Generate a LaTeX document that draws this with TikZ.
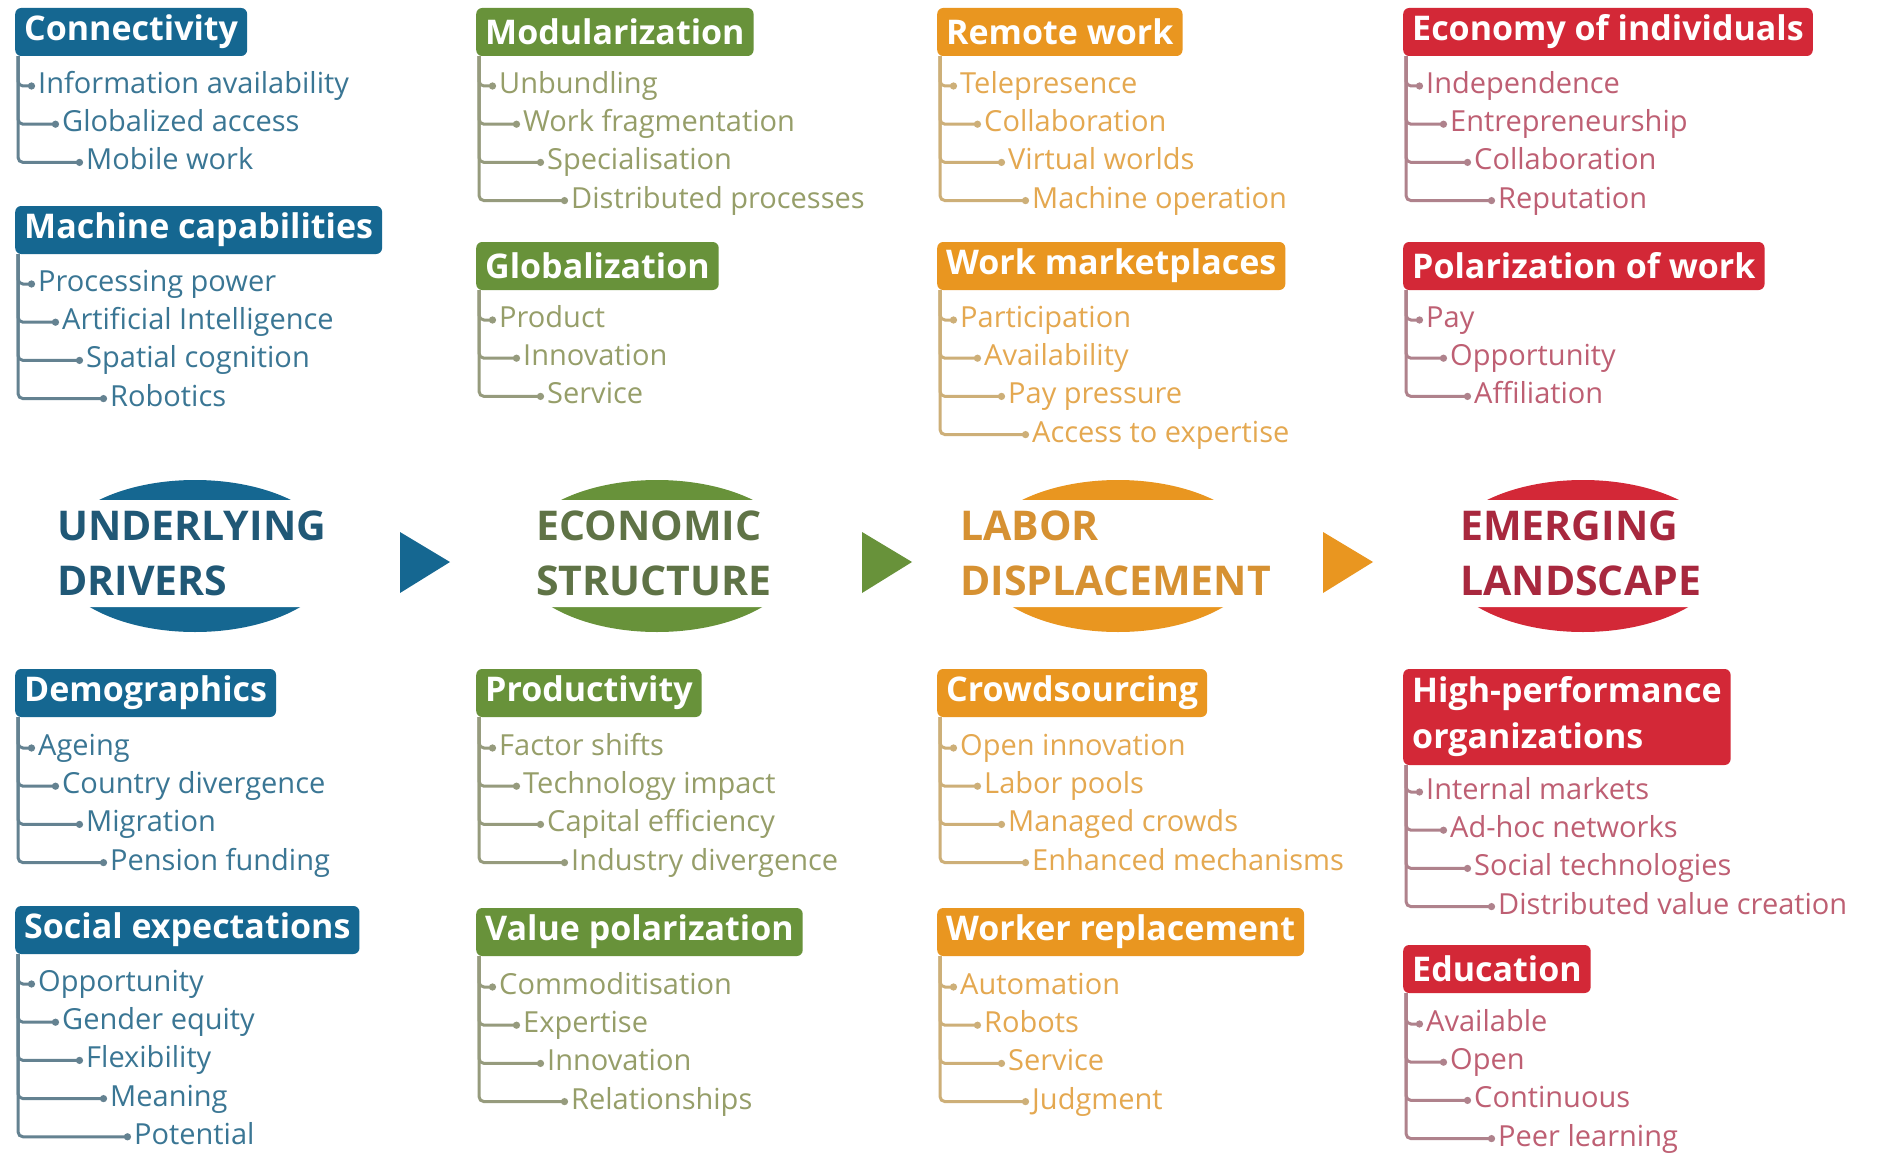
\documentclass[tikz,border=0pt]{standalone}
\usepackage{fontspec}
\setmainfont{Open Sans}
\usepackage{tikz}
\usetikzlibrary{calc,positioning,arrows.meta}

\definecolor{drvhead}{RGB}{21,103,145}
\definecolor{drvtxt}{RGB}{58,118,148}
\definecolor{drvline}{RGB}{100,130,145}
\definecolor{drvdark}{RGB}{32,88,118}
\definecolor{ecohead}{RGB}{104,146,58}
\definecolor{ecotxt}{RGB}{150,158,105}
\definecolor{ecoline}{RGB}{150,155,125}
\definecolor{ecodark}{RGB}{95,115,70}
\definecolor{labhead}{RGB}{233,150,32}
\definecolor{labtxt}{RGB}{228,168,80}
\definecolor{labline}{RGB}{205,175,120}
\definecolor{labdark}{RGB}{214,145,50}
\definecolor{emghead}{RGB}{211,40,55}
\definecolor{emgtxt}{RGB}{190,95,115}
\definecolor{emgline}{RGB}{175,130,140}
\definecolor{emgdark}{RGB}{168,40,62}

\tikzset{
  hdr/.style={anchor=west,rounded corners=6pt,text=white,inner xsep=9pt,inner ysep=0pt,
    minimum height=48pt,font=\bfseries\fontsize{34}{46}\selectfont},
  leaf/.style={anchor=west,inner xsep=3pt,inner ysep=0pt,text height=21pt,text depth=6pt,
    font=\fontsize{29}{30}\selectfont},
  twig/.style={line width=3pt,rounded corners=5pt,-{Circle[length=7pt]}},
  stage/.style={anchor=west,align=left,inner sep=0pt,font=\bfseries\fontsize{41}{55}\selectfont}
}

% header node, colour prefix, x, first item y, items
\newcommand{\subtree}[5]{%
  \foreach \txt [count=\k from 0] in {#5} {
    \node[leaf,text=#2txt] (#1-\k) at ({#3+20+24*\k},{#4+1+38.2*\k}) {\txt};
    \draw[twig,#2line] ([xshift=3pt]#1.south west) |- (#1-\k.west);
  }}

\begin{document}
\begin{tikzpicture}[x=1pt,y=-1pt]
  \fill[white] (0,0) rectangle (1880,1153);
  \useasboundingbox (0,0) rectangle (1880,1153);

  % underlying drivers
  \node[hdr,fill=drvhead] (conn) at (15,32) {Connectivity};
  \subtree{conn}{drv}{15}{85}{Information availability,Globalized access,Mobile work}
  \node[hdr,fill=drvhead] (mach) at (15,230) {Machine capabilities};
  \subtree{mach}{drv}{15}{283}{Processing power,Artificial Intelligence,Spatial cognition,Robotics}
  \node[hdr,fill=drvhead] (demo) at (15,693) {Demographics};
  \subtree{demo}{drv}{15}{747}{Ageing,Country divergence,Migration,Pension funding}
  \node[hdr,fill=drvhead] (soc) at (15,930) {Social expectations};
  \subtree{soc}{drv}{15}{983}{Opportunity,Gender equity,Flexibility,Meaning,Potential}

  % economic structure
  \node[hdr,fill=ecohead] (modu) at (476,32) {Modularization};
  \subtree{modu}{eco}{476}{85}{Unbundling,Work fragmentation,Specialisation,Distributed processes}
  \node[hdr,fill=ecohead] (glob) at (476,266) {Globalization};
  \subtree{glob}{eco}{476}{319}{Product,Innovation,Service}
  \node[hdr,fill=ecohead] (prod) at (476,693) {Productivity};
  \subtree{prod}{eco}{476}{747}{Factor shifts,Technology impact,Capital efficiency,Industry divergence}
  \node[hdr,fill=ecohead] (valp) at (476,932) {Value polarization};
  \subtree{valp}{eco}{476}{986}{Commoditisation,Expertise,Innovation,Relationships}

  % labor displacement
  \node[hdr,fill=labhead] (remo) at (937,32) {Remote work};
  \subtree{remo}{lab}{937}{85}{Telepresence,Collaboration,Virtual worlds,Machine operation}
  \node[hdr,fill=labhead] (mark) at (937,266) {Work marketplaces};
  \subtree{mark}{lab}{937}{319}{Participation,Availability,Pay pressure,Access to expertise}
  \node[hdr,fill=labhead] (crow) at (937,693) {Crowdsourcing};
  \subtree{crow}{lab}{937}{747}{Open innovation,Labor pools,Managed crowds,Enhanced mechanisms}
  \node[hdr,fill=labhead] (repl) at (937,932) {Worker replacement};
  \subtree{repl}{lab}{937}{986}{Automation,Robots,Service,Judgment}

  % emerging landscape
  \node[hdr,fill=emghead] (econ) at (1403,32) {Economy of individuals};
  \subtree{econ}{emg}{1403}{85}{Independence,Entrepreneurship,Collaboration,Reputation}
  \node[hdr,fill=emghead] (pola) at (1403,266) {Polarization of work};
  \subtree{pola}{emg}{1403}{319}{Pay,Opportunity,Affiliation}
  \node[hdr,fill=emghead,align=left,minimum height=96pt] (hpo) at (1403,717) {High-performance\\organizations};
  \subtree{hpo}{emg}{1403}{791}{Internal markets,Ad-hoc networks,Social technologies,Distributed value creation}
  \node[hdr,fill=emghead] (educ) at (1403,969) {Education};
  \subtree{educ}{emg}{1403}{1023}{Available,Open,Continuous,Peer learning}

  % stages
  \coordinate (drv-c) at (195,556);
  \coordinate (eco-c) at (657,556);
  \coordinate (lab-c) at (1118,556);
  \coordinate (emg-c) at (1583,556);
  \fill[drvhead] (drv-c) ellipse [x radius=142pt,y radius=76pt];
  \fill[ecohead] (eco-c) ellipse [x radius=142pt,y radius=76pt];
  \fill[labhead] (lab-c) ellipse [x radius=142pt,y radius=76pt];
  \fill[emghead] (emg-c) ellipse [x radius=142pt,y radius=76pt];
  \fill[white] ($(drv-c)+(-150,-56)$) rectangle ($(drv-c)+(150,51)$)
               ($(eco-c)+(-150,-56)$) rectangle ($(eco-c)+(150,51)$)
               ($(lab-c)+(-150,-56)$) rectangle ($(lab-c)+(150,51)$)
               ($(emg-c)+(-150,-56)$) rectangle ($(emg-c)+(150,51)$);
  \node[stage,text=drvdark] (drv) at (57,553) {UNDERLYING\\DRIVERS};
  \node[stage,text=ecodark] (eco) at (536,553) {ECONOMIC\\STRUCTURE};
  \node[stage,text=labdark] (lab) at (960,553) {LABOR\\DISPLACEMENT};
  \node[stage,text=emgdark] (emg) at (1460,553) {EMERGING\\LANDSCAPE};

  \fill[drvhead] (400,532) -- (450,562) -- (400,593) -- cycle;
  \fill[ecohead] (862,532) -- (912,562) -- (862,593) -- cycle;
  \fill[labhead] (1323,532) -- (1373,562) -- (1323,593) -- cycle;
\end{tikzpicture}
\end{document}
